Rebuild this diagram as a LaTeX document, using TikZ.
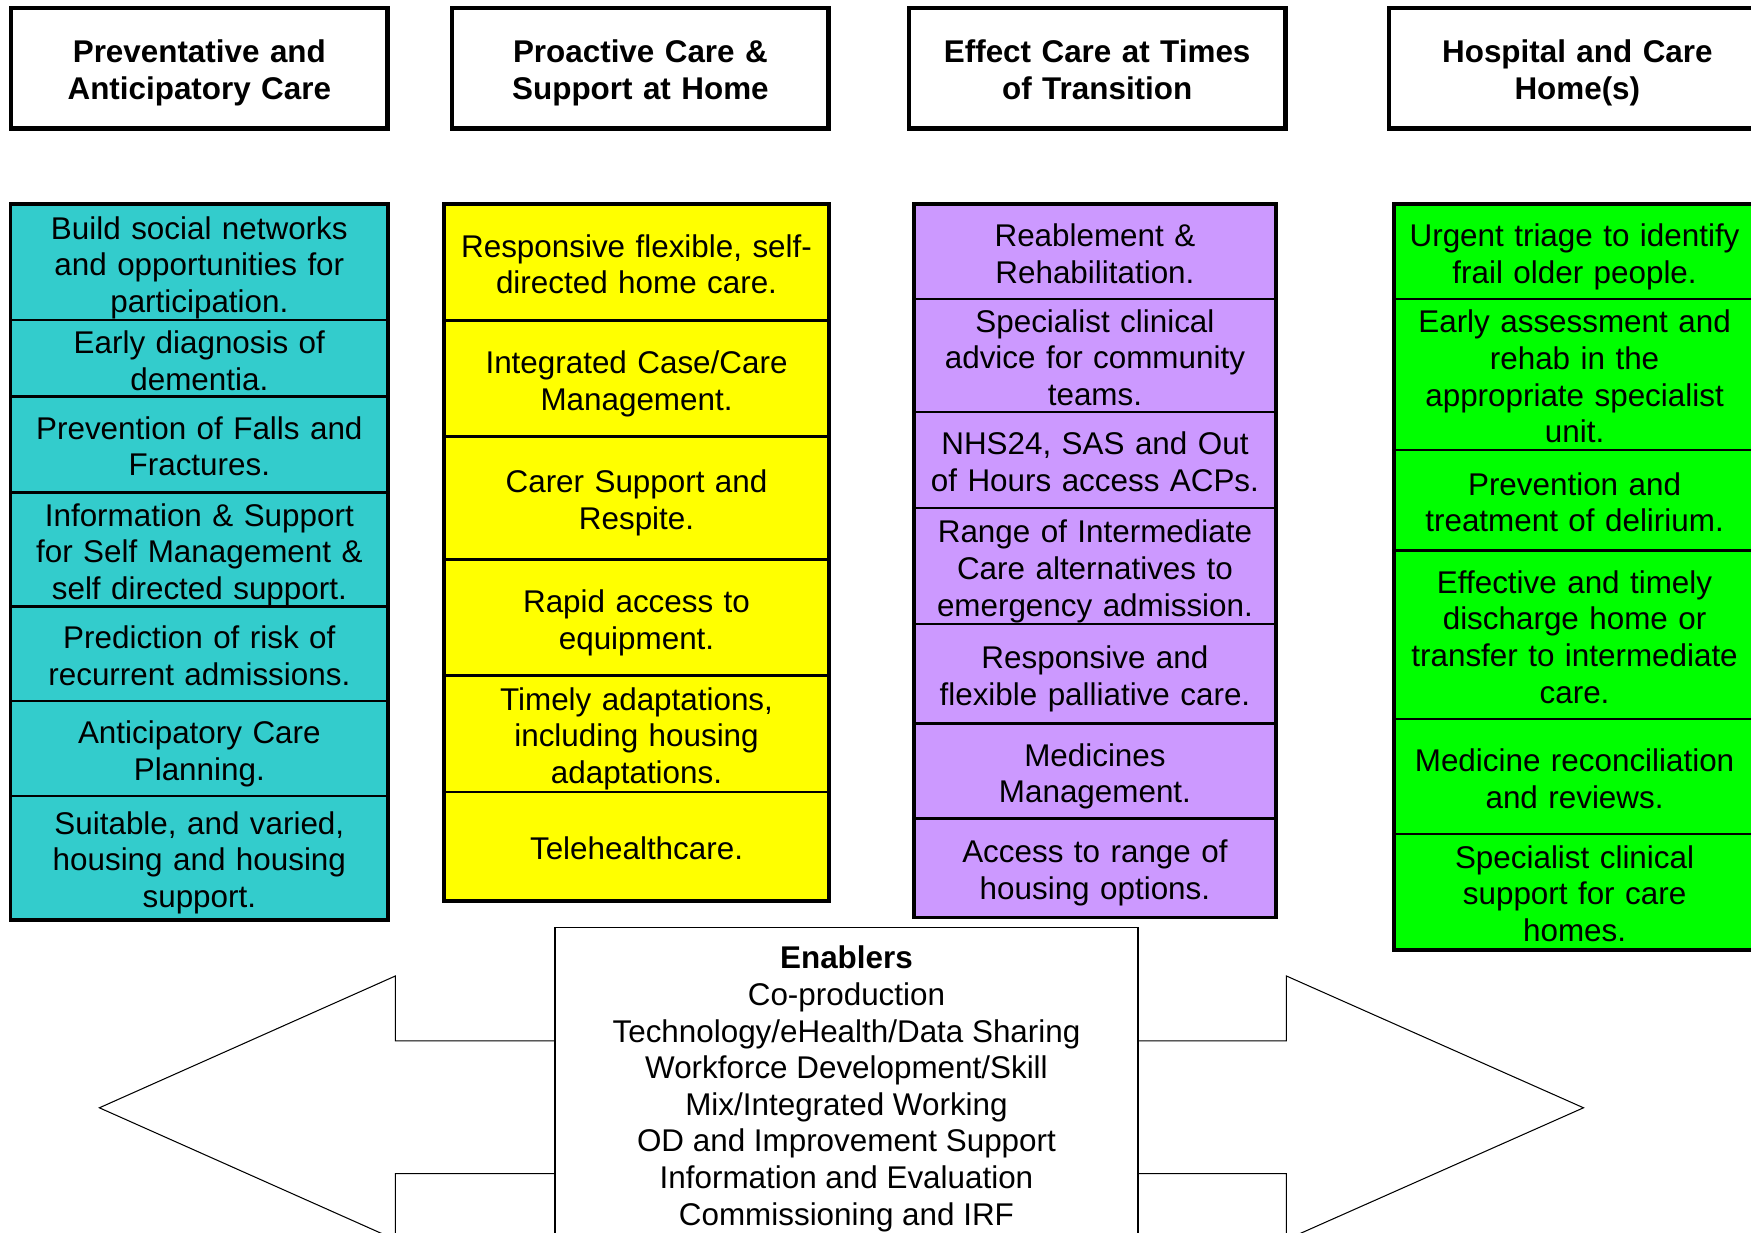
\documentclass[tikz,border=0pt]{standalone}
\usepackage{fontspec}
\setmainfont{Liberation Sans}
\usepackage{tikz}

\definecolor{cyancell}{HTML}{33CCCC}
\definecolor{yellowcell}{HTML}{FFFF00}
\definecolor{purplecell}{HTML}{CC99FF}
\definecolor{greencell}{HTML}{00FF00}

\tikzset{
	head/.style = { draw, line width=1.7pt, text width=5.055cm, inner xsep=0pt,
		minimum height=1.62cm, align=center,
		execute at begin node=\rule{0pt}{14pt}, execute at end node=\strut,
		font=\fontsize{12}{14}\selectfont\bfseries },
	cell/.style = { draw, line width=0.9pt, inner sep=0pt, align=center,
		execute at begin node=\rule{0pt}{12.6pt},
		execute at end node=\rule[-2.5pt]{0pt}{2.5pt},
		font=\fontsize{12}{14}\selectfont },
	colone/.style = { cell, fill=cyancell, text width=5.055cm },
	coltwo/.style = { cell, fill=yellowcell, text width=5.16cm },
	colthree/.style = { cell, fill=purplecell, text width=4.845cm },
	colfour/.style = { cell, fill=greencell, text width=4.83cm },
	colframe/.style = { line width=1.1pt },
	bigarrow/.style = { draw, line width=0.4pt, fill=white },
	enablebox/.style = { draw, line width=0.6pt, fill=white, anchor=north,
		minimum width=7.83cm, inner ysep=7pt,
		align=center, font=\fontsize{12}{14}\selectfont },
}

\begin{document}
\begin{tikzpicture}[ x=0.015cm, y=-0.015cm ]
	\useasboundingbox (0,0) rectangle (1568,1104);

	\node [ head ] (1) at (178.5,61)
		{ Preventative and \\ Anticipatory Care };
	\node [ head ] (2) at (573.5,61)
		{ Proactive Care \& \\ Support at Home };
	\node [ head ] (3) at (982.5,61)
		{ Effect Care at Times \\ of Transition };
	\node [ head ] (4) at (1412.5,61)
		{ Hospital and Care \\ Home(s) };

	\node [ colone, minimum height=1.56cm ] (11) at (178.5,235)
		{ Build social networks \\ and opportunities for \\ participation. };
	\node [ colone, minimum height=1.03cm ] (12) at (178.5,321)
		{ Early diagnosis of \\ dementia. };
	\node [ colone, minimum height=1.29cm ] (13) at (178.5,398)
		{ Prevention of Falls and \\ Fractures. };
	\node [ colone, minimum height=1.53cm ] (14) at (178.5,492)
		{ Information \& Support \\ for Self Management \& \\ self directed support. };
	\node [ colone, minimum height=1.275cm ] (15) at (178.5,585.5)
		{ Prediction of risk of \\ recurrent admissions. };
	\node [ colone, minimum height=1.275cm ] (16) at (178.5,670.5)
		{ Anticipatory Care \\ Planning. };
	\node [ colone, minimum height=1.65cm ] (17) at (178.5,768)
		{ Suitable, and varied, \\ housing and housing \\ support. };
	\draw [ colframe ] (11.north west) rectangle (17.south east);

	\node [ coltwo, minimum height=1.56cm ] (21) at (570,235)
		{ Responsive flexible, self- \\ directed home care. };
	\node [ coltwo, minimum height=1.56cm ] (22) at (570,339)
		{ Integrated Case/Care \\ Management. };
	\node [ coltwo, minimum height=1.65cm ] (23) at (570,446)
		{ Carer Support and \\ Respite. };
	\node [ coltwo, minimum height=1.56cm ] (24) at (570,553)
		{ Rapid access to \\ equipment. };
	\node [ coltwo, minimum height=1.56cm ] (25) at (570,657)
		{ Timely adaptations, \\ including housing \\ adaptations. };
	\node [ coltwo, minimum height=1.455cm ] (26) at (570,757.5)
		{ Telehealthcare. };
	\draw [ colframe ] (21.north west) rectangle (26.south east);

	\node [ colthree, minimum height=1.275cm ] (31) at (980.5,225.5)
		{ Reablement \& \\ Rehabilitation. };
	\node [ colthree, minimum height=1.52cm ] (32) at (980.5,318.5)
		{ Specialist clinical \\ advice for community \\ teams. };
	\node [ colthree, minimum height=1.29cm ] (33) at (980.5,412)
		{ NHS24, SAS and Out \\ of Hours access ACPs. };
	\node [ colthree, minimum height=1.56cm ] (34) at (980.5,507)
		{ Range of Intermediate \\ Care alternatives to \\ emergency admission. };
	\node [ colthree, minimum height=1.335cm ] (35) at (980.5,603.5)
		{ Responsive and \\ flexible palliative care. };
	\node [ colthree, minimum height=1.275cm ] (36) at (980.5,690.5)
		{ Medicines \\ Management. };
	\node [ colthree, minimum height=1.32cm ] (37) at (980.5,777)
		{ Access to range of \\ housing options. };
	\draw [ colframe ] (31.north west) rectangle (37.south east);

	\node [ colfour, minimum height=1.275cm ] (41) at (1410,225.5)
		{ Urgent triage to identify \\ frail older people. };
	\node [ colfour, minimum height=2.025cm ] (42) at (1410,335.5)
		{ Early assessment and \\ rehab in the \\ appropriate specialist \\ unit. };
	\node [ colfour, minimum height=1.35cm ] (43) at (1410,448)
		{ Prevention and \\ treatment of delirium. };
	\node [ colfour, minimum height=2.265cm ] (44) at (1410,568.5)
		{ Effective and timely \\ discharge home or \\ transfer to intermediate \\ care. };
	\node [ colfour, minimum height=1.545cm ] (45) at (1410,695.5)
		{ Medicine reconciliation \\ and reviews. };
	\node [ colfour, minimum height=1.545cm ] (46) at (1410,798.5)
		{ Specialist clinical \\ support for care \\ homes. };
	\draw [ colframe ] (41.north west) rectangle (46.south east);

	\draw [ bigarrow ] (89,992) -- (354,874) -- (354,932) -- (1152,932)
		-- (1152,874) -- (1418,992) -- (1152,1110) -- (1152,1051)
		-- (354,1051) -- (354,1110) -- cycle;

	\node [ enablebox ] (5) at (758,830)
		{ \textbf{Enablers} \\ Co-production \\ Technology/eHealth/Data Sharing \\
		Workforce Development/Skill \\ Mix/Integrated Working \\
		OD and Improvement Support \\ Information and Evaluation \\
		Commissioning and IRF };
\end{tikzpicture}
\end{document}
